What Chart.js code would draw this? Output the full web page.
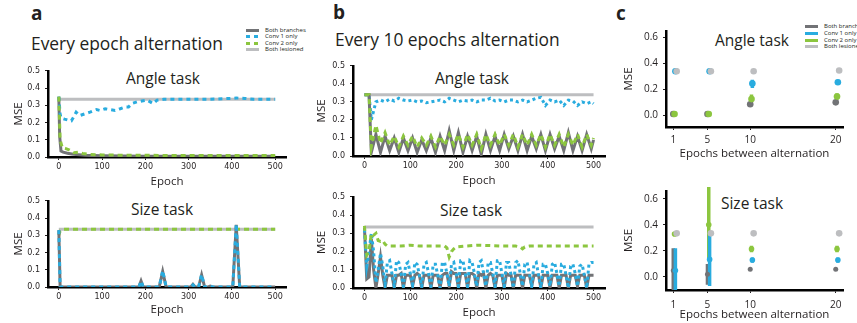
<!DOCTYPE html>
<html>
<head>
<meta charset="utf-8">
<script src="https://cdn.jsdelivr.net/npm/chart.js@4.4.1/dist/chart.umd.min.js"></script>
<style>
  body { margin: 0; width: 857px; height: 323px; background: #fff; position: relative; overflow: hidden;
         font-family: "Open Sans", sans-serif; color: #231f20; }
  canvas { position: absolute; }
  .t { position: absolute; white-space: nowrap; line-height: 1; }
  .c { transform: translateX(-50%); }
  .lg { position: absolute; font-size: 6px; line-height: 1; white-space: nowrap; }
  .sw { position: absolute; height: 3px; width: 13px; }
</style>
</head>
<body>
<div class="t" style="left:31px;top:4px;font-size:19px;font-weight:bold">a</div>
<div class="t" style="left:333px;top:3px;font-size:19px;font-weight:bold">b</div>
<div class="t" style="left:616px;top:4px;font-size:19px;font-weight:bold">c</div>
<div class="t" style="left:31px;top:35px;font-size:17.4px">Every epoch alternation</div>
<div class="t" style="left:335px;top:31px;font-size:17.4px">Every 10 epochs alternation</div>
<div class="t c" style="left:163px;top:71px;font-size:15.5px">Angle task</div>
<div class="t c" style="left:162px;top:202px;font-size:15.5px">Size task</div>
<div class="t c" style="left:472px;top:71px;font-size:15.5px">Angle task</div>
<div class="t c" style="left:471px;top:203px;font-size:15.5px">Size task</div>
<div class="t c" style="left:752px;top:33px;font-size:15.5px">Angle task</div>
<div class="t c" style="left:752px;top:196px;font-size:15.5px">Size task</div>
<div id="legA"></div>
<div id="legC"></div>
<script>
// ---- data ----
const seriesNames = ['Both branches', 'Conv 1 only', 'Conv 2 only', 'Both lesioned'];
const epochTicks = [0, 100, 200, 300, 400, 500];
const mseTicks = [0, 0.1, 0.2, 0.3, 0.4, 0.5];
const altTicks = [1, 5, 10, 20];
const altMseTicks = [0, 0.2, 0.4, 0.6];

// a: every epoch alternation, angle task
const aAngleBothEp = [0, 2, 5, 10, 20, 30, 40, 60, 80, 100, 150, 200, 300, 400, 500];
const aAngleBoth   = [0.35, 0.12, 0.035, 0.028, 0.022, 0.018, 0.014, 0.01, 0.008, 0.007, 0.006, 0.005, 0.005, 0.005, 0.005];
const aAngleConv1Ep = [0, 3, 5, 13, 20, 29, 35, 40, 48, 60, 72, 87, 95, 107, 118, 130, 142, 153, 161, 169,
                       181, 192, 204, 218, 227, 243, 260, 300, 350, 400, 410, 430, 450, 500];
const aAngleConv1   = [0.35, 0.25, 0.227, 0.22, 0.215, 0.21, 0.235, 0.26, 0.24, 0.25, 0.26, 0.275, 0.27, 0.28, 0.275, 0.27, 0.28, 0.29, 0.29, 0.31,
                       0.32, 0.325, 0.33, 0.31, 0.33, 0.335, 0.335, 0.335, 0.335, 0.34, 0.342, 0.34, 0.335, 0.335];
const aAngleConv2Ep = [0, 3, 8, 15, 25, 35, 45, 55, 70, 100, 150, 200, 300, 400, 500];
const aAngleConv2   = [0.35, 0.10, 0.055, 0.05, 0.04, 0.025, 0.028, 0.02, 0.015, 0.012, 0.01, 0.01, 0.008, 0.008, 0.008];
const aAngleLesEp = [0, 500];
const aAngleLes   = [0.335, 0.335];

// a: every epoch alternation, size task
const aSizeBothEp = [0, 3, 185, 190, 195, 232, 240, 248, 305, 310, 315, 323, 330, 337, 345, 350, 355, 402, 410, 418, 500];
const aSizeBoth   = [0.33, 0, 0, 0.035, 0, 0, 0.09, 0, 0, 0.015, 0, 0, 0.07, 0, 0, 0.005, 0, 0, 0.36, 0, 0];
const aSizeConv1Ep = [0, 3, 185, 190, 195, 232, 240, 248, 305, 310, 315, 323, 330, 337, 345, 350, 355, 402, 410, 418, 500];
const aSizeConv1   = [0.33, 0, 0, 0.035, 0, 0, 0.095, 0, 0, 0.012, 0, 0, 0.072, 0, 0, 0.006, 0, 0, 0.365, 0, 0];
const aSizeConv2Ep = [0, 3, 8, 500];
const aSizeConv2   = [0.30, 0.325, 0.335, 0.335];
const aSizeLesEp = [0, 500];
const aSizeLes   = [0.335, 0.335];

// b: every 10 epochs alternation, angle task
const bAngleEp = [0, 10, 15, 25, 35, 45, 55, 65, 75, 85, 95, 105, 115, 125, 135, 145, 155, 165, 175, 185, 195, 205,
                  215, 225, 235, 245, 255, 265, 275, 285, 295, 305, 315, 325, 335, 345, 355, 365, 375, 385, 395, 405,
                  415, 425, 435, 445, 455, 465, 475, 485, 495, 500];
const bAngleBoth = [0.34, 0.34, 0.02, 0.12, 0.02, 0.11, 0.03, 0.10, 0.02, 0.10, 0.03, 0.10, 0.02, 0.09, 0.03, 0.10, 0.02, 0.11, 0.03, 0.14, 0.03, 0.13,
                    0.02, 0.11, 0.03, 0.11, 0.01, 0.12, 0.03, 0.11, 0.03, 0.12, 0.04, 0.11, 0.03, 0.12, 0.03, 0.11, 0.04, 0.12, 0.03, 0.12,
                    0.04, 0.11, 0.03, 0.13, 0.03, 0.11, 0.03, 0.12, 0.04, 0.09];
const bAngleConv1 = [0.34, 0.34, 0.20, 0.30, 0.31, 0.30, 0.315, 0.305, 0.32, 0.31, 0.305, 0.31, 0.30, 0.305, 0.295, 0.30, 0.305, 0.31, 0.30, 0.32, 0.31, 0.30,
                     0.31, 0.305, 0.31, 0.30, 0.31, 0.31, 0.32, 0.305, 0.31, 0.30, 0.31, 0.31, 0.30, 0.31, 0.30, 0.31, 0.32, 0.325, 0.28, 0.31,
                     0.30, 0.31, 0.28, 0.31, 0.305, 0.28, 0.30, 0.29, 0.30, 0.29];
const bAngleConv2 = [0.34, 0.34, 0.05, 0.17, 0.07, 0.13, 0.06, 0.11, 0.05, 0.11, 0.06, 0.11, 0.05, 0.10, 0.06, 0.11, 0.05, 0.11, 0.06, 0.12, 0.06, 0.12,
                     0.05, 0.12, 0.06, 0.12, 0.04, 0.12, 0.06, 0.12, 0.06, 0.12, 0.06, 0.12, 0.05, 0.12, 0.06, 0.12, 0.06, 0.12, 0.05, 0.12,
                     0.06, 0.12, 0.05, 0.12, 0.06, 0.12, 0.05, 0.12, 0.06, 0.10];
const bAngleLesEp = [0, 500];
const bAngleLes   = [0.34, 0.34];

// b: every 10 epochs alternation, size task (sampled every 5 epochs)
const bSizeEp = [0, 5, 10, 15, 20, 25, 30, 35, 40, 45, 50, 55, 60, 65, 70, 75, 80, 85, 90, 95,
                 100, 105, 110, 115, 120, 125, 130, 135, 140, 145, 150, 155, 160, 165, 170, 175, 180, 185, 190, 195,
                 200, 205, 210, 215, 220, 225, 230, 235, 240, 245, 250, 255, 260, 265, 270, 275, 280, 285, 290, 295,
                 300, 305, 310, 315, 320, 325, 330, 335, 340, 345, 350, 355, 360, 365, 370, 375, 380, 385, 390, 395,
                 400, 405, 410, 415, 420, 425, 430, 435, 440, 445, 450, 455, 460, 465, 470, 475, 480, 485, 490, 495, 500];
const bSizeBoth = [0.33, 0.05, 0.06, 0.27, 0.10, 0.0, 0.08, 0.17, 0.07, 0.0, 0.07, 0.07, 0.07, 0.0, 0.07, 0.07, 0.08, 0.0, 0.07, 0.07,
                   0.07, 0.01, 0.07, 0.08, 0.07, 0.0, 0.07, 0.07, 0.07, 0.0, 0.07, 0.07, 0.07, 0.0, 0.07, 0.08, 0.08, 0.01, 0.09, 0.08,
                   0.08, 0.0, 0.08, 0.08, 0.08, 0.0, 0.08, 0.08, 0.07, 0.0, 0.08, 0.07, 0.08, 0.0, 0.07, 0.08, 0.07, 0.0, 0.07, 0.07,
                   0.07, 0.0, 0.08, 0.07, 0.07, 0.0, 0.07, 0.07, 0.07, 0.0, 0.07, 0.07, 0.07, 0.01, 0.07, 0.07, 0.07, 0.0, 0.07, 0.07,
                   0.07, 0.0, 0.07, 0.07, 0.07, 0.0, 0.07, 0.07, 0.07, 0.0, 0.07, 0.07, 0.07, 0.01, 0.07, 0.07, 0.07, 0.0, 0.07, 0.07, 0.07];
const bSizeConv1 = [0.32, 0.12, 0.20, 0.30, 0.20, 0.03, 0.10, 0.19, 0.12, 0.02, 0.14, 0.15, 0.08, 0.01, 0.15, 0.14, 0.08, 0.01, 0.13, 0.14,
                    0.08, 0.02, 0.14, 0.13, 0.07, 0.01, 0.13, 0.14, 0.08, 0.01, 0.13, 0.13, 0.07, 0.0, 0.14, 0.14, 0.08, 0.01, 0.13, 0.14,
                    0.08, 0.01, 0.15, 0.15, 0.08, 0.01, 0.15, 0.14, 0.08, 0.01, 0.14, 0.15, 0.08, 0.01, 0.14, 0.14, 0.08, 0.01, 0.15, 0.15,
                    0.08, 0.01, 0.14, 0.14, 0.07, 0.0, 0.14, 0.15, 0.08, 0.01, 0.13, 0.14, 0.08, 0.01, 0.13, 0.14, 0.07, 0.0, 0.13, 0.13,
                    0.08, 0.01, 0.13, 0.14, 0.08, 0.01, 0.13, 0.13, 0.07, 0.0, 0.12, 0.13, 0.08, 0.01, 0.12, 0.13, 0.07, 0.0, 0.13, 0.14, 0.14];
const bSizeConv2Ep = [0, 5, 10, 15, 20, 25, 30, 35, 40, 45, 50, 60, 80, 100, 120, 140, 160,
                      175, 180, 185, 190, 195, 200, 220, 250, 300, 330, 340, 345, 350, 360, 400, 450, 500];
const bSizeConv2   = [0.34, 0.18, 0.20, 0.30, 0.29, 0.30, 0.26, 0.255, 0.26, 0.24, 0.23, 0.23, 0.23, 0.235, 0.23, 0.23, 0.23,
                      0.23, 0.22, 0.17, 0.20, 0.215, 0.225, 0.23, 0.235, 0.23, 0.23, 0.225, 0.215, 0.225, 0.23, 0.23, 0.23, 0.23];
const bSizeLesEp = [0, 500];
const bSizeLes   = [0.335, 0.335];

// c: MSE vs epochs between alternation (mean, low, high)
const cAngleBoth = [0.01, 0.01, 0.085, 0.10];
const cAngleBothLo = [0.005, 0.005, 0.07, 0.085];
const cAngleBothHi = [0.015, 0.015, 0.10, 0.115];
const cAngleConv1 = [0.34, 0.34, 0.245, 0.255];
const cAngleConv1Lo = [0.335, 0.335, 0.21, 0.235];
const cAngleConv1Hi = [0.345, 0.345, 0.275, 0.275];
const cAngleConv2 = [0.01, 0.01, 0.125, 0.145];
const cAngleConv2Lo = [0.005, 0.005, 0.10, 0.12];
const cAngleConv2Hi = [0.015, 0.015, 0.16, 0.17];
const cAngleLes = [0.34, 0.34, 0.34, 0.345];

const cSizeBoth = [0.05, 0.02, 0.06, 0.06];
const cSizeBothLo = [-0.1, -0.06, 0.055, 0.055];
const cSizeBothHi = [0.22, 0.10, 0.065, 0.065];
const cSizeConv1 = [0.05, 0.135, 0.13, 0.13];
const cSizeConv1Lo = [-0.1, -0.07, 0.11, 0.11];
const cSizeConv1Hi = [0.22, 0.32, 0.15, 0.15];
const cSizeConv2 = [0.33, 0.40, 0.215, 0.215];
const cSizeConv2Lo = [0.325, 0.12, 0.19, 0.19];
const cSizeConv2Hi = [0.335, 0.69, 0.24, 0.24];
const cSizeLes = [0.335, 0.335, 0.335, 0.335];

// ---- style ----
const dark = '#727376', blue = '#29acdf', green = '#8cc63f', light = '#bdbec0', ink = '#231f20';
const colors = [dark, blue, green, light];
const dodge = [0, 0.25, 0.15, 0.4];   // horizontal offsets in panel c
const tickFont = { family: 'DejaVu Sans', size: 8 };
const cTickFont = { family: 'Open Sans', size: 10 };
const titleFont = { family: 'Open Sans', size: 11.5 };
const PAD = { left: 2, top: 8, right: 8, bottom: 0 };

// ---- legends ----
function legend(id, x, ys, dashed) {
  const box = document.getElementById(id);
  seriesNames.forEach((name, i) => {
    const sw = document.createElement('div');
    sw.className = 'sw';
    sw.style.left = x + 'px';
    sw.style.top = (ys[i] - 1.5) + 'px';
    if (dashed && (i === 1 || i === 2)) {
      sw.style.background = 'repeating-linear-gradient(90deg,' + colors[i] + ' 0 4px, transparent 4px 8px)';
    } else {
      sw.style.background = colors[i];
    }
    box.appendChild(sw);
    const tx = document.createElement('div');
    tx.className = 'lg';
    tx.style.left = (x + 19) + 'px';
    tx.style.top = (ys[i] - 3.3) + 'px';
    tx.textContent = name;
    box.appendChild(tx);
  });
}
legend('legA', 246, [30, 36.5, 43, 49.5], true);
legend('legC', 805, [26.7, 33.3, 40, 46.7], false);

// ---- charts ----
function panel(area, yW, xH, config) {
  const cv = document.createElement('canvas');
  const L = area[0] - PAD.left - yW, T = area[1] - PAD.top;
  const W = area[2] + PAD.right - L, H = area[3] + xH + PAD.bottom - T;
  cv.width = W; cv.height = H;
  cv.style.left = L + 'px'; cv.style.top = T + 'px';
  cv.style.width = W + 'px'; cv.style.height = H + 'px';
  document.body.appendChild(cv);
  config.options.layout = { padding: PAD };
  config.options.scales.y.afterFit = s => { s.width = yW; };
  config.options.scales.x.afterFit = s => { s.height = xH; };
  return new Chart(cv, config);
}

function axis(min, max, ticks, font, pad, title, fmt) {
  return {
    type: 'linear', min: min, max: max, z: 1,
    afterBuildTicks: s => { s.ticks = ticks.map(v => ({ value: v })); },
    ticks: { font: font, color: ink, padding: pad, autoSkip: false, maxRotation: 0,
             callback: fmt || (v => String(v)) },
    grid: { drawOnChartArea: false, tickLength: 3, color: ink, lineWidth: 1 },
    border: { display: true, color: '#000', width: 2.5 },
    title: { display: true, text: title, font: titleFont, color: ink, padding: 0 }
  };
}

function line(i, ep, val, dash) {
  return {
    label: seriesNames[i],
    data: ep.map((e, k) => ({ x: e, y: val[k] })),
    borderColor: colors[i], borderWidth: 3, borderDash: dash || [],
    pointRadius: 0, tension: 0, fill: false
  };
}

function epochChart(area, yW, xH, sets) {
  return panel(area, yW, xH, {
    type: 'line',
    data: { datasets: sets },
    options: {
      responsive: false, animation: false, events: [],
      plugins: { legend: { display: false }, tooltip: { enabled: false } },
      scales: {
        x: axis(-25, 525, epochTicks, tickFont, 2, 'Epoch'),
        y: axis(0, 0.5, mseTicks, tickFont, 5, 'MSE', v => v.toFixed(1))
      }
    }
  });
}

// datasets listed top-most first
epochChart([48, 69, 286, 157], 36, 32, [
  line(2, aAngleConv2Ep, aAngleConv2, [5, 4]),
  line(1, aAngleConv1Ep, aAngleConv1, [4, 4]),
  line(0, aAngleBothEp, aAngleBoth),
  line(3, aAngleLesEp, aAngleLes)
]);
epochChart([48, 199, 286, 287], 36, 30, [
  line(1, aSizeConv1Ep, aSizeConv1, [4, 4]),
  line(0, aSizeBothEp, aSizeBoth),
  line(2, aSizeConv2Ep, aSizeConv2, [5, 4]),
  line(3, aSizeLesEp, aSizeLes)
]);
epochChart([353, 64, 605, 156], 38, 32, [
  line(2, bAngleEp, bAngleConv2, [5, 4]),
  line(0, bAngleEp, bAngleBoth),
  line(1, bAngleEp, bAngleConv1, [3, 3]),
  line(3, bAngleLesEp, bAngleLes)
]);
epochChart([353, 195, 605, 288], 38, 32, [
  line(2, bSizeConv2Ep, bSizeConv2, [5, 4]),
  line(1, bSizeEp, bSizeConv1, [3, 3]),
  line(0, bSizeEp, bSizeBoth),
  line(3, bSizeLesEp, bSizeLes)
]);

function dots(i, vals, r) {
  return {
    type: 'scatter', label: seriesNames[i],
    data: altTicks.map((x, k) => ({ x: x + dodge[i], y: vals[k] })),
    backgroundColor: colors[i], borderWidth: 0, pointRadius: r || 3.3, clip: false
  };
}
function bars(i, lo, hi) {
  const d = [];
  altTicks.forEach((x, k) => {
    d.push({ x: x + dodge[i], y: lo[k] }, { x: x + dodge[i], y: hi[k] }, { x: x + dodge[i], y: null });
  });
  return {
    type: 'line', label: seriesNames[i] + ' range', data: d,
    borderColor: colors[i], borderWidth: 3.5, pointRadius: 0, spanGaps: false, clip: false
  };
}

function altChart(area, yMin, yMax, xH, pad, sets) {
  return panel(area, 44, xH, {
    type: 'scatter',
    data: { datasets: sets },
    options: {
      responsive: false, animation: false, events: [],
      plugins: { legend: { display: false }, tooltip: { enabled: false } },
      scales: {
        x: axis(0.15, 20.85, altTicks, cTickFont, pad, 'Epochs between alternation'),
        y: axis(yMin, yMax, altMseTicks, cTickFont, 5, 'MSE', v => v.toFixed(1))
      }
    }
  });
}

altChart([666, 28, 843, 127], -0.09, 0.65, 34, 4, [
  dots(3, cAngleLes),
  dots(1, cAngleConv1),
  dots(2, cAngleConv2),
  dots(0, cAngleBoth),
  bars(1, cAngleConv1Lo, cAngleConv1Hi),
  bars(2, cAngleConv2Lo, cAngleConv2Hi),
  bars(0, cAngleBothLo, cAngleBothHi)
]);
altChart([666, 188, 843, 290], -0.1, 0.66, 32, 6, [
  dots(3, cSizeLes),
  dots(1, cSizeConv1, 2.8),
  dots(2, cSizeConv2, 2.8),
  dots(0, cSizeBoth, 2.5),
  bars(1, cSizeConv1Lo, cSizeConv1Hi),
  bars(2, cSizeConv2Lo, cSizeConv2Hi),
  bars(0, cSizeBothLo, cSizeBothHi)
]);
</script>
</body>
</html>
